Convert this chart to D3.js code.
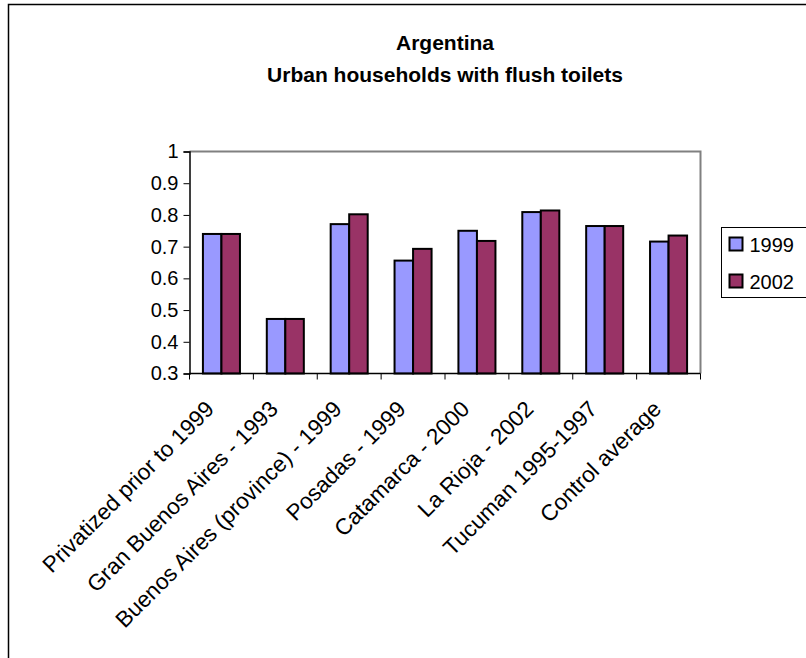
<!DOCTYPE html>
<html>
<head>
<meta charset="utf-8">
<script src="https://cdn.jsdelivr.net/npm/d3@7/dist/d3.min.js"></script>
<style>
  html, body { margin: 0; padding: 0; background: #fff; }
  svg { display: block; font-family: Arial, "Liberation Sans", sans-serif; }
</style>
</head>
<body>
<svg id="chart" width="806" height="658"></svg>
<script>
// Share of urban households with flush toilets, by privatization group
const categories = [
  "Privatized prior to 1999",
  "Gran Buenos Aires - 1993",
  "Buenos Aires (province) - 1999",
  "Posadas - 1999",
  "Catamarca - 2000",
  "La Rioja - 2002",
  "Tucuman 1995-1997",
  "Control average"
];
const seriesNames = ["1999", "2002"];
const values1999 = [0.74, 0.472, 0.771, 0.656, 0.75, 0.809, 0.765, 0.716];
const values2002 = [0.74, 0.472, 0.802, 0.693, 0.718, 0.814, 0.765, 0.735];
const yTicks = [0.3, 0.4, 0.5, 0.6, 0.7, 0.8, 0.9, 1];
const yTickLabels = ["0.3", "0.4", "0.5", "0.6", "0.7", "0.8", "0.9", "1"];
const titleLines = ["Argentina", "Urban households with flush toilets"];

const colors = { "1999": "#9999FF", "2002": "#993366" };
const seriesValues = { "1999": values1999, "2002": values2002 };

const svg = d3.select("#chart");

// Chart area frame (extends past the right and bottom edges)
svg.append("rect")
  .attr("x", 8.5).attr("y", 4.5)
  .attr("width", 820).attr("height", 680)
  .attr("fill", "#fff")
  .attr("stroke", "#000").attr("stroke-width", 1.5);

const plot = { left: 189.5, right: 700.5, top: 151.5, bottom: 373.5 };

const x = d3.scaleBand()
  .domain(categories)
  .range([plot.left, plot.right])
  .paddingInner(0).paddingOuter(0);

const inner = d3.scaleBand()
  .domain(seriesNames)
  .range([0, x.bandwidth()])
  .paddingOuter(0.725).paddingInner(0);

const y = d3.scaleLinear()
  .domain([0.3, 1])
  .range([plot.bottom, plot.top]);

// Plot area border (grey on top and right)
svg.append("path")
  .attr("d", `M${plot.left},${plot.top}H${plot.right}V${plot.bottom}`)
  .attr("fill", "none")
  .attr("stroke", "#808080").attr("stroke-width", 2);

// Bars
const groups = svg.append("g").selectAll("g")
  .data(categories)
  .join("g")
  .attr("transform", d => `translate(${x(d)},0)`);

groups.selectAll("rect")
  .data((d, i) => seriesNames.map(s => ({ s, v: seriesValues[s][i] })))
  .join("rect")
  .attr("x", d => inner(d.s))
  .attr("width", inner.bandwidth())
  .attr("y", d => y(d.v))
  .attr("height", d => y(0.3) - y(d.v))
  .attr("fill", d => colors[d.s])
  .attr("stroke", "#000")
  .attr("stroke-width", 2);

// Y axis
const yAxis = d3.axisLeft(y)
  .tickValues(yTicks)
  .tickFormat((d, i) => yTickLabels[i])
  .tickSize(6)
  .tickPadding(5);

const gy = svg.append("g")
  .attr("transform", `translate(${plot.left},0)`)
  .call(yAxis);
gy.select(".domain").attr("stroke", "#000").attr("stroke-width", 1.5);
gy.selectAll(".tick line").attr("stroke", "#000");
gy.selectAll(".tick text")
  .attr("font-size", 20)
  .attr("font-family", "Arial, 'Liberation Sans', sans-serif")
  .attr("fill", "#000");

// X axis: ticks at the category boundaries
const gx = svg.append("g")
  .attr("transform", `translate(0,${plot.bottom})`);
gx.append("line")
  .attr("x1", plot.left).attr("x2", plot.right)
  .attr("stroke", "#000").attr("stroke-width", 1.5);
const boundaries = categories.map(c => x(c)).concat([x(categories[categories.length - 1]) + x.bandwidth()]);
gx.selectAll("line.tick")
  .data(boundaries)
  .join("line")
  .attr("class", "tick")
  .attr("x1", d => d).attr("x2", d => d)
  .attr("y1", 0).attr("y2", 6)
  .attr("stroke", "#000");

gx.selectAll("text")
  .data(categories)
  .join("text")
  .attr("transform", d => `translate(${x(d) + x.bandwidth() / 2 - 6},${37}) rotate(-45)`)
  .attr("text-anchor", "end")
  .attr("font-size", 22.5)
  .attr("fill", "#000")
  .text(d => d);

// Title
svg.append("g").selectAll("text")
  .data(titleLines)
  .join("text")
  .attr("x", 445)
  .attr("y", (d, i) => 50 + i * 32)
  .attr("text-anchor", "middle")
  .attr("font-size", 21)
  .attr("font-weight", "bold")
  .attr("fill", "#000")
  .text(d => d);

// Legend
const legend = svg.append("g").attr("transform", "translate(721.5,227.5)");
legend.append("rect")
  .attr("width", 100).attr("height", 70)
  .attr("fill", "#fff").attr("stroke", "#000").attr("stroke-width", 1);
const items = legend.selectAll("g.item")
  .data(seriesNames)
  .join("g")
  .attr("class", "item")
  .attr("transform", (d, i) => `translate(8,${10 + i * 37})`);
items.append("rect")
  .attr("width", 13).attr("height", 13)
  .attr("fill", d => colors[d])
  .attr("stroke", "#000").attr("stroke-width", 2);
items.append("text")
  .attr("x", 20).attr("y", 14)
  .attr("font-size", 20)
  .attr("fill", "#000")
  .text(d => d);
</script>
</body>
</html>
